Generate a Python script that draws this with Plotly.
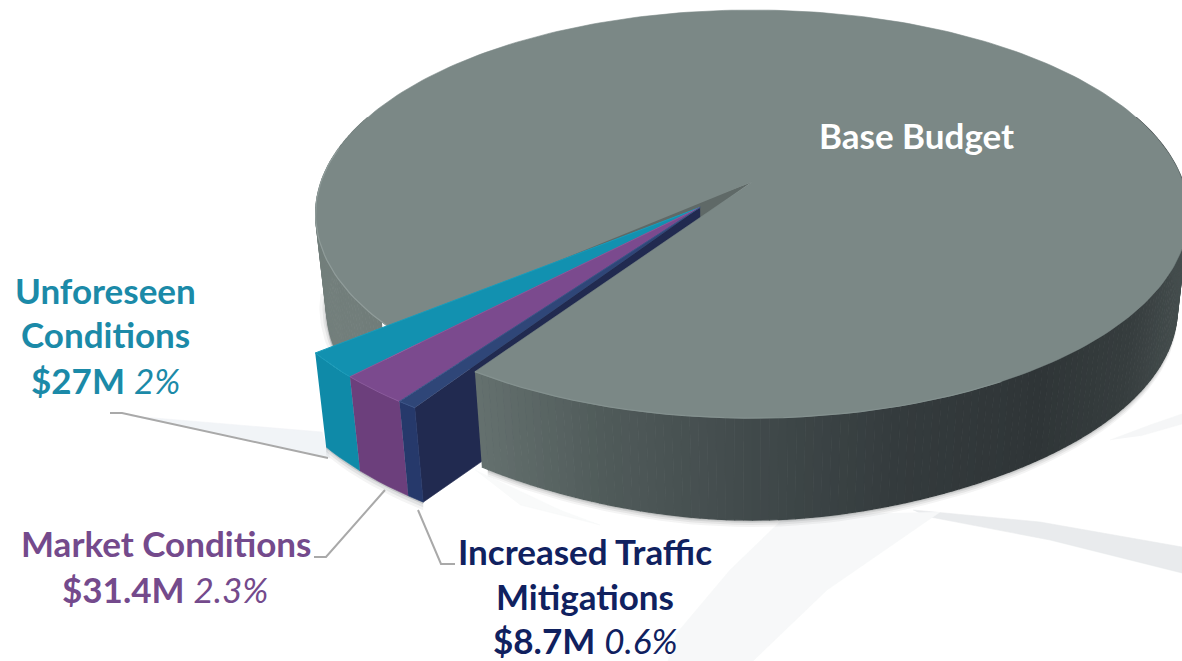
import math
import numpy as np
import plotly.graph_objects as go

# ---- data ----
slice_names = ["Unforeseen Conditions", "Market Conditions", "Increased Traffic Mitigations", "Base Budget"]
slice_values = [27.0, 31.4, 8.7, 1298.0]   # $M, base budget estimated from the percentages
slice_pcts = ["2%", "2.3%", "0.6%"]

# ---- projection of the pie plane to the canvas ----
CX, CY, R, RY, K = 752.0, 182.0, 431.0, 199.0, 0.157
START = 140.8
EXPLODE = (-0.118, 0.125)
HOLE_TRIM_RIGHT = 0.9
HOLE_TRIM_LEFT = 2.2


def top(u, v):
    u, v = np.asarray(u, float), np.asarray(v, float)
    w = 1 - K * v
    return CX + R * u / w, CY + RY * v / w


def drop(x, y):
    d = 94 + 8 * np.exp(-(((x - CX) / 200.0) ** 2))
    return CX + (x - CX) * 0.975, y + d


def arc(a0, a1, n=2):
    t = np.radians(np.linspace(a0, a1, n))
    return np.cos(t), np.sin(t)


fig = go.Figure()


def poly(x, y, color, line=None, lw=0.6):
    fig.add_trace(go.Scatter(x=list(x), y=list(y), mode="lines", fill="toself", fillcolor=color,
                             line=dict(color=line or color, width=lw), hoverinfo="skip", showlegend=False))


def path(x, y, color, lw):
    fig.add_trace(go.Scatter(x=list(x), y=list(y), mode="lines", line=dict(color=color, width=lw),
                             hoverinfo="skip", showlegend=False))


def lerp_color(x):
    stops = [(300, (116, 128, 125)), (400, (112, 124, 121)), (480, (100, 112, 110)), (600, (80, 91, 90)),
             (760, (64, 73, 74)), (900, (52, 59, 61)), (1040, (47, 53, 55)), (1130, (54, 61, 62)), (1200, (72, 81, 81))]
    for (x0, c0), (x1, c1) in zip(stops, stops[1:]):
        if x <= x1:
            f = max(0, (x - x0) / (x1 - x0))
            return "rgb(%d,%d,%d)" % tuple(round(a + (b - a) * f) for a, b in zip(c0, c1))
    return "rgb(72,81,81)"


# ---- decorative background swooshes ----
poly([130, 230, 322, 330, 250], [416, 424, 432, 458, 440], "#f1f4f7")
poly([913, 1040, 1182, 1182, 1050, 925], [510, 522, 547, 573, 540, 516], "#e9ebed")
poly([787, 730, 677, 668, 753, 827, 940], [515, 570, 633, 661, 661, 590, 512], "#f7f8f9")
poly([1110, 1150, 1182, 1182, 1140], [440, 425, 414, 424, 436], "#f5f6f7")
poly([475, 560, 600, 520], [470, 510, 525, 505], "#f9fafa")

# ---- slice angles ----
total = sum(slice_values)
sweeps = [v / total * 360 for v in slice_values]
a_u0 = START
a_u1 = a_u0 - sweeps[0]
a_m1 = a_u1 - sweeps[1]
a_n1 = a_m1 - sweeps[2]
a_b0 = a_n1 + HOLE_TRIM_RIGHT
a_b1 = a_n1 - sweeps[3] - HOLE_TRIM_LEFT

# soft shadow under the pie
bu, bv = arc(a_n1, a_b1 - 0, 200)
bx, by = drop(*top(bu, bv))
for off, alpha in [(7, 0.05), (5, 0.07), (3, 0.10), (1.5, 0.15)]:
    poly(np.r_[bx, bx[::-1]], np.r_[by + off, by[::-1] - 20], "rgba(40,45,48,%.2f)" % alpha, lw=0)
su, sv = arc(175, 140, 40)
sx, sy = drop(*top(su, sv))
for off, alpha in [(7, 0.05), (4, 0.08), (2, 0.12)]:
    poly(np.r_[sx - off, sx[::-1] + 20], np.r_[sy, sy[::-1]], "rgba(40,45,48,%.2f)" % alpha, lw=0)

# shadow below the exploded wedges
eu, ev = arc(a_u0, a_n1, 12)
ex, ey = drop(*top(eu + EXPLODE[0], ev + EXPLODE[1]))
for off, alpha in [(8, 0.05), (5, 0.08), (2, 0.14)]:
    poly(np.r_[ex, ex[::-1]], np.r_[ey + off, ey[::-1] - 10], "rgba(30,35,45,%.2f)" % alpha, lw=0)


def walls(a0, a1, step=1.0):
    n = max(2, int(abs(a1 - a0) / step) + 1)
    edges = np.linspace(a0, a1, n)
    for p, q in zip(edges, edges[1:]):
        u, v = arc(p, q, 3)
        x, y = top(u, v)
        bx_, by_ = drop(x, y)
        poly(np.r_[x, bx_[::-1]], np.r_[y, by_[::-1]], lerp_color(float(x.mean())), lw=1.2)


# left outer wall of base (behind the wedges)
walls(200, a_u0)

# hole floor, dark tip at the centre
hx, hy = top([0, math.cos(math.radians(a_u0)), math.cos(math.radians(a_n1))],
             [0, math.sin(math.radians(a_u0)), math.sin(math.radians(a_n1))])
poly(hx, hy, "#5f6967")

# navy side wall
nu, nv = top(np.array([EXPLODE[0], math.cos(math.radians(a_n1)) + EXPLODE[0]]),
             np.array([EXPLODE[1], math.sin(math.radians(a_n1)) + EXPLODE[1]]))
ndx, ndy = drop(nu, nv)
poly(np.r_[nu, ndx[::-1]], np.r_[nv, ndy[::-1]], "#212a50")

# front outer wall of base
walls(a_b0, -20)

# base top
bu, bv = arc(a_b0, a_b1, 300)
btx, bty = top(np.r_[0, bu], np.r_[0, bv])
poly(btx, bty, "#7b8886", line="#7b8886")
rimu, rimv = arc(190, a_u0 - HOLE_TRIM_LEFT, 40)
path(*top(rimu, rimv), "#909c9a", 1.2)
rimu, rimv = arc(a_b0, 60, 30)
path(*top(rimu, rimv), "#84918f", 1.2)

# exploded wedges: front faces, then tops
styles = [
    ("#0f8aa8", "#1291b0", "#1a9cba"),
    ("#6c3f7c", "#7b4a8e", "#8a5a9c"),
    ("#26396b", "#2f4678", "#3b5488"),
]
angles = [(a_u0, a_u1), (a_u1, a_m1), (a_m1, a_n1)]
for (a0, a1), (front, topc, edge) in zip(angles, styles):
    u, v = arc(a0, a1, 6)
    x, y = top(u + EXPLODE[0], v + EXPLODE[1])
    dx_, dy_ = drop(x, y)
    poly(np.r_[x, dx_[::-1]], np.r_[y, dy_[::-1]], front)
    ax, ay = top(EXPLODE[0], EXPLODE[1])
    poly(np.r_[float(ax), x], np.r_[float(ay), y], topc, line=edge, lw=1)

# ---- leader lines ----
LEADER = "#a9a9a9"
path([110, 122, 328], [413, 413, 458], LEADER, 2)
path([314, 326, 385], [557, 557, 490], LEADER, 2)
path([418, 441, 455], [510, 564, 564], LEADER, 2)

# ---- text ----
TEAL, PURPLE, NAVY = "#1b8aa8", "#744a8c", "#10215f"
FONT = "Lato, Carlito, sans-serif"
labels = [
    ("<b>Base Budget</b>", 916, 135, "#ffffff"),
    ("<b>Unforeseen</b>", 105, 290, TEAL),
    ("<b>Conditions</b>", 105, 334, TEAL),
    ("<b>$27M</b> <i>" + slice_pcts[0] + "</i>", 105, 380, TEAL),
    ("<b>Market Conditions</b>", 166, 543, PURPLE),
    ("<b>$31.4M</b> <i>" + slice_pcts[1] + "</i>", 165, 589, PURPLE),
    ("<b>Increased Traffic</b>", 585, 551, NAVY),
    ("<b>Mitigations</b>", 585, 596, NAVY),
    ("<b>$8.7M</b> <i>" + slice_pcts[2] + "</i>", 585, 640, NAVY),
]
for txt, x, y, c in labels:
    fig.add_annotation(x=x, y=y, xref="x", yref="y", text=txt, showarrow=False, xanchor="center", yanchor="middle",
                       font=dict(family=FONT, size=35, color=c))

fig.update_layout(width=1182, height=661, margin=dict(l=0, r=0, t=0, b=0), paper_bgcolor="white", plot_bgcolor="white",
                  showlegend=False,
                  xaxis=dict(range=[0, 1182], visible=False, fixedrange=True),
                  yaxis=dict(range=[661, 0], visible=False, fixedrange=True))
fig.write_html("out.html", config={"displayModeBar": False},
               post_script="document.body.style.margin='0';document.body.style.overflow='hidden';")
